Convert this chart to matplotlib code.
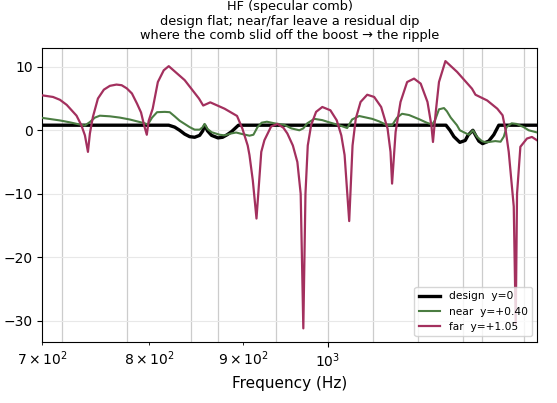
import numpy as np
import matplotlib
matplotlib.use("Agg")
import matplotlib.pyplot as plt

# frequencies (Hz) and levels (dB)
design_f = [700, 819.9, 826.0, 831.2, 836.4, 841.6, 846.9, 852.2, 855.5, 857.5,
            860.7, 865.0, 872.0, 877.0, 882.0, 887.0, 894.6, 1159.7, 1165.5, 1171.3,
            1180.0, 1188.0, 1192.0, 1199.4, 1204.0, 1208.4, 1214.0, 1223.5, 1231.2,
            1238.9, 1300]
design_db = [0.8, 0.8, 0.5, 0.0, -0.6, -1.0, -1.1, -0.8, -0.1, 0.8,
             -0.1, -0.8, -1.2, -1.1, -0.7, -0.2, 0.8, 0.8, 0.0, -1.0,
             -1.9, -1.6, -0.8, 0.0, -0.9, -1.7, -2.1, -1.7, -0.7,
             0.8, 0.8]

near_f = [700, 715.6, 724.6, 733.7, 738.3, 742.9, 747.6, 752.2, 761.7, 771.2,
          780.9, 790.7, 795.7, 798.7, 803.0, 808.0, 815.8, 820.9, 826.0, 831.2,
          836.4, 841.6, 846.9, 852.2, 855.5, 857.5, 860.7, 865.0, 873.7, 879.2,
          886.5, 892.0, 899.0, 907.0, 911.5, 916.2, 921.0, 927.0, 935.7, 947.5,
          955.8, 965.4, 970.2, 975.0, 983.6, 993.5, 1002.2, 1014.8, 1024.9, 1031.2,
          1040.4, 1057.5, 1066.7, 1077.4, 1084.1, 1090.9, 1097.7, 1107.4, 1121.3, 1132.0,
          1139.7, 1144.0, 1149.6, 1156.8, 1161.0, 1166.6, 1175.7, 1180.0, 1193.4, 1199.4,
          1205.4, 1212.9, 1219.0, 1226.6, 1233.5, 1241.7, 1246.7, 1251.0, 1259.0, 1266.8,
          1278.1, 1286.1, 1300]
near_db = [1.95, 1.55, 1.25, 0.9, 0.75, 1.3, 2.0, 2.3, 2.2, 2.0,
           1.7, 1.3, 1.1, 0.9, 2.0, 2.85, 2.9, 2.85, 2.2, 1.5,
           1.0, 0.5, 0.1, 0.1, 0.5, 1.0, 0.2, -0.3, -0.7, -0.8,
           -0.5, -0.35, -0.6, -0.85, -0.7, 0.5, 1.2, 1.35, 1.1, 0.85,
           0.3, 0.0, 0.3, 1.1, 1.8, 1.6, 1.25, 0.8, 0.35, 1.7,
           2.25, 1.8, 1.4, 0.8, 0.8, 2.0, 2.6, 2.4, 1.75, 1.2,
           0.9, 1.6, 3.3, 3.5, 3.0, 2.0, 0.8, 0.0, -0.7, 0.0,
           -1.0, -1.7, -1.9, -1.8, -1.7, -1.8, -1.0, 0.5, 1.1, 1.0,
           0.5, 0.0, -0.35]

far_f = [700, 709.4, 715.6, 721.7, 730.6, 735.0, 738.3, 741.1, 742.9, 745.7,
         750.4, 756.0, 761.7, 768.0, 773.0, 778.0, 783.0, 788.0, 792.0, 795.0,
         797.7, 799.6, 803.6, 808.8, 814.8, 819.9, 836.4, 851.5, 856.0, 863.6,
         879.2, 893.0, 899.0, 905.0, 907.0, 910.8, 915.0, 920.5, 924.1, 931.9,
         939.3, 946.3, 951.0, 957.6, 963.0, 967.0, 970.2, 972.8, 975.6, 979.7,
         985.8, 993.5, 1003.6, 1011.6, 1017.4, 1021.6, 1027.5, 1031.8, 1036.0, 1042.2,
         1050.9, 1060.1, 1069.4, 1078.0, 1082.0, 1084.1, 1088.9, 1095.6, 1104.7, 1114.3,
         1123.6, 1133.2, 1138.7, 1141.0, 1145.0, 1149.6, 1158.9, 1175.9, 1198.0, 1203.3,
         1221.0, 1236.6, 1244.8, 1250.0, 1254.4, 1262.3, 1265.4, 1267.5, 1272.8, 1283.3,
         1291.3, 1300]
far_db = [5.5, 5.25, 4.8, 4.0, 2.3, 0.8, -0.8, -3.4, -0.5, 2.1,
          5.0, 6.4, 7.0, 7.2, 7.1, 6.6, 5.8, 4.2, 2.8, 0.8,
          -0.7, 1.5, 3.4, 7.6, 9.45, 10.1, 7.9, 5.0, 3.9, 4.4,
          3.4, 2.26, 0.26, -2.4, -3.9, -7.9, -13.9, -3.4, -1.57, 0.6,
          1.0, 0.4, -0.5, -2.4, -5.0, -10.0, -31.2, -10.0, -2.4, 0.8,
          2.9, 3.67, 3.15, 1.57, -0.8, -3.9, -14.3, -2.4, 1.84, 4.46,
          5.6, 5.25, 3.67, 0.26, -3.4, -8.4, -0.26, 4.46, 7.6, 8.14,
          7.35, 4.46, 0.8, -1.84, 2.9, 7.6, 10.9, 9.2, 6.56, 5.6,
          4.7, 3.4, 2.36, -0.26, -3.4, -12.0, -30.5, -10.0, -2.6, -1.3,
          -1.05, -1.6]

# grey marker lines across the band
marks_f = [717, 778, 843, 872.5, 938, 1000, 1058, 1120, 1185, 1213, 1278]

fig = plt.figure(figsize=(5.57, 4.03), dpi=100)
ax = fig.add_axes([0.076, 0.152, 0.8886, 0.7296])

ax.grid(True, axis='y', color='#e8e8e8', lw=0.8)
for f in marks_f:
    ax.axvline(f, color='#cccccc', lw=0.9, zorder=1)

ax.plot(design_f, design_db, color='black', lw=2.4, label='design  y=0', zorder=3)
ax.plot(near_f, near_db, color='#4b7d42', lw=1.5, label='near  y=+0.40', zorder=4)
ax.plot(far_f, far_db, color='#a3305e', lw=1.6, label='far  y=+1.05', zorder=5)

ax.set_xscale('log')
ax.set_xlim(700, 1300)
ax.set_xlabel('Frequency (Hz)', fontsize=11)
ax.set_title('HF (specular comb)\ndesign flat; near/far leave a residual dip\n'
             'where the comb slid off the boost \u2192 the ripple',
             fontsize=9.3, linespacing=1.15, pad=6)
ax.legend(loc='lower right', fontsize=7.7)

fig.savefig('out.png', dpi=100)
